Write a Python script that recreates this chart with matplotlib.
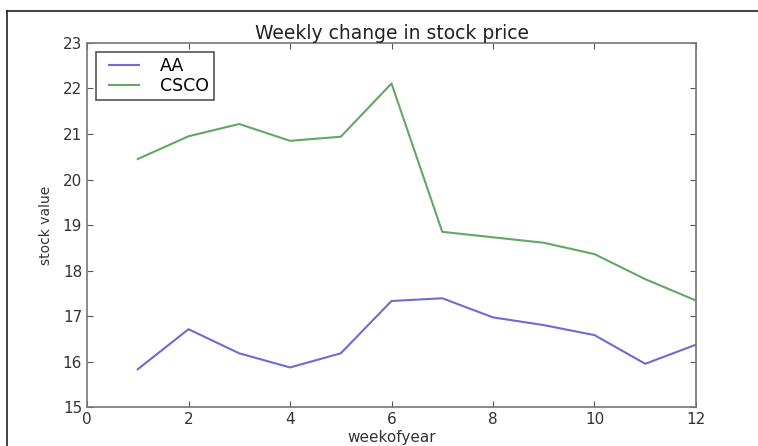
import matplotlib
matplotlib.use("Agg")
import matplotlib.pyplot as plt
from matplotlib.lines import Line2D
from matplotlib.legend_handler import HandlerLine2D

# datos
weeks = [1, 2, 3, 4, 5, 6, 7, 8, 9, 10, 11, 12]
aa = [15.83, 16.71, 16.18, 15.87, 16.18, 17.33, 17.39, 16.97, 16.80, 16.58, 15.95, 16.37]
csco = [20.45, 20.95, 21.22, 20.85, 20.94, 22.11, 18.85, 18.73, 18.61, 18.36, 17.81, 17.34]

fig = plt.figure(figsize=(7.58, 4.46), dpi=100)
ax = fig.add_axes([0.1148, 0.0874, 0.8034, 0.8162])

ax.plot(weeks, aa, color='#6c6cd2', linewidth=1.5, label='AA')
ax.plot(weeks, csco, color='#62a862', linewidth=1.5, label='CSCO')

ax.set_xlim(0, 12)
ax.set_ylim(15, 23)
ax.set_xticks(range(0, 13, 2))
ax.set_yticks(range(15, 24))
ax.tick_params(direction='in', top=True, right=True, length=4, labelsize=11,
               colors='#555555', labelcolor='#333333')
for s in ax.spines.values():
    s.set_color('#777777')
    s.set_linewidth(1.2)

ax.set_title('Weekly change in stock price', fontsize=13.5, color='#222222', pad=3)
ax.set_xlabel('weekofyear', fontsize=11, color='#333333', labelpad=2)
ax.set_ylabel('stock value', fontsize=10, color='#333333', labelpad=7)

# leyenda con la linea un poco separada del borde
leg = ax.legend(loc='upper left', fontsize=12.5, fancybox=False, framealpha=1,
                borderaxespad=0.5, borderpad=0.3, labelspacing=0.1,
                handlelength=2.2, handletextpad=1.2,
                handler_map={Line2D: HandlerLine2D(xpad=0.45)})
leg.get_frame().set_edgecolor('#555555')
leg.get_frame().set_linewidth(1.2)

# marco de la imagen
fig.add_artist(Line2D([0.0092, 1.0], [0.975, 0.975], color='#444444', linewidth=1.5))
fig.add_artist(Line2D([0.0092, 0.0092], [0.0, 0.975], color='#222222', linewidth=1.2))

plt.savefig('out.png', dpi=100)
